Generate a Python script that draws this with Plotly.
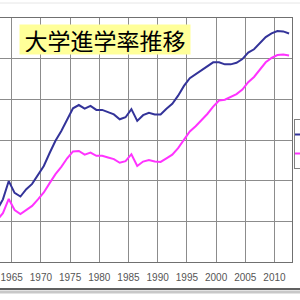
import plotly.graph_objects as go

years = list(range(1962, 2013))
univ_junior = [12.8, 15.4, 19.9, 17.0, 16.1, 17.9, 19.2, 21.4, 23.6, 26.8,
               29.8, 32.2, 35.2, 37.8, 38.6, 37.7, 38.4, 37.4, 37.4, 36.9,
               36.3, 35.1, 35.6, 37.6, 34.7, 36.1, 36.7, 36.3, 36.3, 37.7,
               38.9, 40.9, 43.3, 45.2, 46.2, 47.3, 48.2, 49.1, 49.1, 48.6,
               48.6, 49.0, 49.9, 51.5, 52.3, 53.7, 55.3, 56.2, 56.8, 56.7,
               56.2]
univ_only = [10.3, 12.0, 15.5, 12.8, 11.8, 12.9, 13.8, 15.4, 17.1, 19.4,
             21.6, 23.4, 25.5, 27.2, 27.3, 26.4, 26.9, 26.1, 26.1, 25.7,
             25.3, 24.4, 24.8, 26.5, 23.6, 24.7, 25.1, 24.7, 24.6, 25.5,
             26.4, 28.0, 30.1, 32.1, 33.4, 34.9, 36.4, 38.2, 39.7, 39.9,
             40.5, 41.3, 42.4, 44.2, 45.5, 47.2, 49.1, 50.2, 50.9, 51.0,
             50.8]
series_names = ["大学・短大", "大学"]
tick_years = list(range(1965, 2011, 5))
title_text = "大学進学率推移"

# points sit at the centre of each year's category slot
xpos = [y + 0.5 for y in years]

fig = go.Figure()
fig.add_trace(go.Scatter(x=xpos, y=univ_junior, mode="lines", name=series_names[0],
                         line=dict(color="#333399", width=2)))
fig.add_trace(go.Scatter(x=xpos, y=univ_only, mode="lines", name=series_names[1],
                         line=dict(color="#FF33FF", width=2)))

grid = "#8c8c8c"
fig.update_layout(
    width=300, height=300,
    margin=dict(l=0, r=8, t=18, b=38, autoexpand=False),
    paper_bgcolor="white", plot_bgcolor="white",
    showlegend=True,
    legend=dict(x=1.007, xanchor="left", y=(262-119)/244, yanchor="top",
                bgcolor="white", bordercolor="#808080", borderwidth=1,
                indentation=-7,
                font=dict(size=10, family="Liberation Sans, Arial")),
    xaxis=dict(range=[1963, 2013], tickvals=tick_years,
               ticktext=[str(t) for t in tick_years], tickangle=0,
               showgrid=True, gridcolor=grid, gridwidth=1,
               showline=True, linecolor="#707070", linewidth=1, mirror=True,
               ticks="", ticklabelstandoff=6, automargin=False,
               tickfont=dict(size=10, color="#555555",
                             family="Liberation Sans, Arial"),
               zeroline=False),
    yaxis=dict(range=[0, 60], dtick=10, showgrid=True, gridcolor=grid,
               gridwidth=1, showticklabels=False, ticks="", automargin=False,
               side="right", showline=True, linecolor="#707070", linewidth=1,
               zeroline=False),
    annotations=[dict(text=title_text, xref="paper", yref="paper",
                      x=105/292, y=(262-39.5)/244, xanchor="center",
                      yanchor="middle", showarrow=False,
                      bgcolor="#FFFF99", width=166, height=25, borderpad=2,
                      font=dict(size=23, color="black",
                                family="Noto Sans CJK JP"))],
    shapes=[
        dict(type="line", xref="paper", yref="paper", x0=-0.05, x1=1.1,
             y0=(262-289)/244, y1=(262-289)/244,
             line=dict(color="#606060", width=2)),
        dict(type="line", xref="paper", yref="paper", x0=-0.05, x1=1.1,
             y0=(262-292)/244, y1=(262-292)/244,
             line=dict(color="#c8c8c8", width=3)),
        dict(type="line", xref="paper", yref="paper", x0=-0.05, x1=1.1,
             y0=(262-3)/244, y1=(262-3)/244,
             line=dict(color="#e6e6e6", width=1)),
    ],
)

fig.write_html("out.html")
